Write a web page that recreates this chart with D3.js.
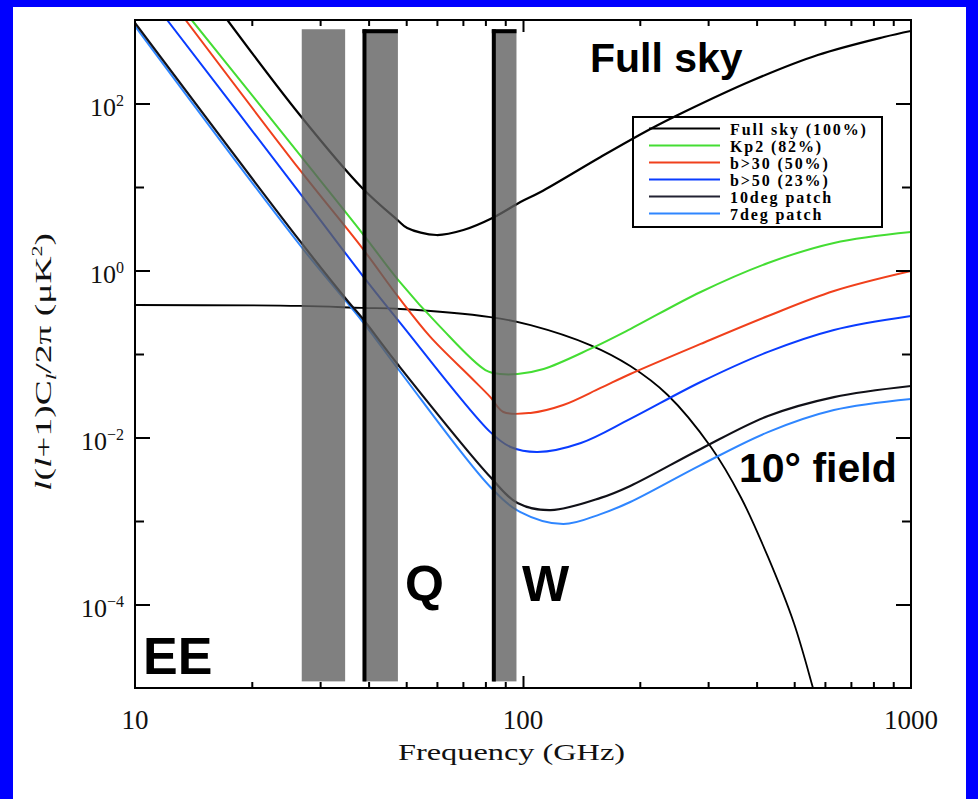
<!DOCTYPE html>
<html>
<head>
<meta charset="utf-8">
<script src="https://cdn.jsdelivr.net/npm/d3@7/dist/d3.min.js"></script>
<style>
html,body{margin:0;padding:0;background:#0000ff;}
svg{display:block;}
</style>
</head>
<body>
<svg id="chart" width="978" height="799"></svg>
<script>
// ---- Foreground EE levels: frequency (GHz) vs l(l+1)C_l/2π (μK²) ----
const fullSkyFreq = [17.3, 26.6, 38.5, 47.5, 50.3, 59.8, 70.2, 83.4, 98.5, 111, 158.5, 213, 260, 387, 575, 852, 1000];
const fullSkyVal  = [1000, 72.8, 9.72, 4.02, 3.23, 2.66, 3.05, 4.25, 6.61, 8.71, 22.9, 49.5, 79.1, 186, 381, 626, 739];

const kp2Freq = [14.0, 26.6, 38.5, 47.7, 61.2, 80.0, 87.5, 96.8, 113, 149, 189, 287, 428, 633, 1000];
const kp2Val  = [1000, 24.2, 2.81, 0.769, 0.211, 0.0643, 0.0576, 0.0576, 0.0661, 0.115, 0.199, 0.553, 1.23, 2.14, 2.89];

const b30Freq = [13.5, 26.6, 38.5, 47.7, 57.7, 73.2, 82.4, 89.0, 104.6, 127, 158.5, 189, 287, 428, 633, 1000];
const b30Val  = [1000, 16.0, 1.86, 0.482, 0.160, 0.053, 0.0305, 0.0202, 0.0197, 0.0245, 0.0392, 0.0576, 0.132, 0.285, 0.568, 0.986];

const b50Freq = [12.1, 26.6, 38.5, 48.3, 82.4, 92.9, 109, 141, 189, 287, 428, 633, 1000];
const b50Val  = [1000, 8.47, 0.883, 0.235, 0.0116, 0.00769, 0.0067, 0.00859, 0.0167, 0.0462, 0.106, 0.194, 0.285];

const patch10Freq = [10, 26.6, 35.5, 38.5, 47.7, 82.4, 96.8, 117.8, 158.5, 189, 287, 428, 633, 1000];
const patch10Val  = [921, 2.26, 0.42, 0.27, 0.0738, 0.00336, 0.00164, 0.00135, 0.00189, 0.00263, 0.00729, 0.0181, 0.0305, 0.0414];

const patch7Freq = [10, 26.6, 38.5, 48.3, 82.4, 98.5, 127, 158.5, 189, 287, 428, 633, 1000];
const patch7Val  = [848, 2.02, 0.248, 0.0609, 0.00255, 0.00128, 0.00092, 0.00121, 0.00169, 0.00468, 0.0116, 0.0213, 0.0289];

// CMB EE signal for a 10° field
const fieldFreq = [10, 26.6, 38.5, 48.3, 82.4, 104.6, 149, 189, 236, 305, 364, 428, 499, 559, 600];
const fieldVal  = [0.386, 0.376, 0.356, 0.346, 0.277, 0.222, 0.128, 0.0718, 0.0323, 0.00769, 0.00194, 0.000371, 0.00006, 0.00001, 0.000003];

// Frequency bands (GHz); the last two carry a marker edge
const bandLow  = [26.9, 38.8, 83.6];
const bandHigh = [34.8, 47.6, 96.2];
const bandMarked = [false, true, true];
const bandTopVal = 775, bandBottomVal = 1.2e-5;

// Axis ticks
const xLabelTicks = [10, 100, 1000];
const xMinorTicks = [20, 30, 40, 50, 60, 70, 80, 90, 200, 300, 400, 500, 600, 700, 800, 900];
const yLabelExponents = [-4, -2, 0, 2];
const yMinorExponents = [-3, -1, 1];

const legendLabels = ["Full sky (100%)", "Kp2 (82%)", "b>30 (50%)", "b>50 (23%)", "10deg patch", "7deg patch"];

// ---- drawing ----
const svg = d3.select("#chart");
svg.append("rect").attr("x", 13).attr("y", 7).attr("width", 953).attr("height", 792).attr("fill", "#fff");

const L = 135, R = 911, T = 20, B = 688;
const x = d3.scaleLog().domain([10, 1000]).range([L, R]);
const y = d3.scaleLog().domain([1e-5, 1e3]).range([B, T]);

svg.append("defs").append("clipPath").attr("id", "plotclip")
  .append("rect").attr("x", L).attr("y", T).attr("width", R - L).attr("height", B - T);

const plot = svg.append("g").attr("clip-path", "url(#plotclip)");

const zip = (f, v) => f.map((d, i) => ({f: d, v: v[i]}));
const series = [
  {data: zip(fieldFreq, fieldVal),     color: "#000000", w: 1.8},
  {data: zip(fullSkyFreq, fullSkyVal), color: "#000000", w: 2.2},
  {data: zip(kp2Freq, kp2Val),         color: "#44dd33", w: 2},
  {data: zip(b30Freq, b30Val),         color: "#f0401c", w: 2},
  {data: zip(b50Freq, b50Val),         color: "#0a3cff", w: 2},
  {data: zip(patch7Freq, patch7Val),   color: "#2f86ff", w: 2},
  {data: zip(patch10Freq, patch10Val), color: "#111118", w: 2.2}
];

const line = d3.line().x(d => x(d.f)).y(d => y(d.v)).curve(d3.curveCatmullRom.alpha(0.5));
plot.selectAll("path.curve").data(series).join("path")
  .attr("class", "curve")
  .attr("d", s => line(s.data))
  .attr("fill", "none")
  .attr("stroke", s => s.color)
  .attr("stroke-width", s => s.w)
  .attr("stroke-linejoin", "round");

// shaded bands drawn over the curves
const bands = bandLow.map((lo, i) => ({lo, hi: bandHigh[i], marked: bandMarked[i]}));
plot.selectAll("rect.band").data(bands).join("rect")
  .attr("class", "band")
  .attr("x", d => x(d.lo)).attr("width", d => x(d.hi) - x(d.lo))
  .attr("y", y(bandTopVal)).attr("height", y(bandBottomVal) - y(bandTopVal))
  .attr("fill", "#606060").attr("opacity", 0.8);

const marked = bands.filter(d => d.marked);
plot.selectAll("line.edge").data(marked).join("line")
  .attr("class", "edge")
  .attr("x1", d => x(d.lo) + 1).attr("x2", d => x(d.lo) + 1)
  .attr("y1", y(bandTopVal)).attr("y2", y(bandBottomVal))
  .attr("stroke", "#000").attr("stroke-width", 4);
plot.selectAll("line.cap").data(marked).join("line")
  .attr("class", "cap")
  .attr("x1", d => x(d.lo) - 1).attr("x2", d => x(d.hi))
  .attr("y1", y(bandTopVal) + 2).attr("y2", y(bandTopVal) + 2)
  .attr("stroke", "#000").attr("stroke-width", 4);

// ---- axes (ticks point inward) ----
const axisStyle = g => { g.select(".domain").remove(); g.selectAll("line").attr("stroke", "#000").attr("stroke-width", 2); g.selectAll("text").remove(); };
const yMajor = yLabelExponents.map(e => Math.pow(10, e));
const yMinor = yMinorExponents.map(e => Math.pow(10, e));

svg.append("g").attr("transform", `translate(${L},0)`).call(d3.axisLeft(y).tickValues(yMajor).tickSize(-15).tickSizeOuter(0)).call(axisStyle);
svg.append("g").attr("transform", `translate(${L},0)`).call(d3.axisLeft(y).tickValues(yMinor).tickSize(-9).tickSizeOuter(0)).call(axisStyle);
svg.append("g").attr("transform", `translate(${R},0)`).call(d3.axisRight(y).tickValues(yMajor).tickSize(-15).tickSizeOuter(0)).call(axisStyle);
svg.append("g").attr("transform", `translate(${R},0)`).call(d3.axisRight(y).tickValues(yMinor).tickSize(-9).tickSizeOuter(0)).call(axisStyle);
svg.append("g").attr("transform", `translate(0,${B})`).call(d3.axisBottom(x).tickValues(xMinorTicks).tickSize(-6).tickSizeOuter(0)).call(axisStyle);
svg.append("g").attr("transform", `translate(0,${B})`).call(d3.axisBottom(x).tickValues([100]).tickSize(-12).tickSizeOuter(0)).call(axisStyle);
svg.append("g").attr("transform", `translate(0,${T})`).call(d3.axisTop(x).tickValues(xMinorTicks).tickSize(-6).tickSizeOuter(0)).call(axisStyle);
svg.append("g").attr("transform", `translate(0,${T})`).call(d3.axisTop(x).tickValues([100]).tickSize(-12).tickSizeOuter(0)).call(axisStyle);

svg.append("rect").attr("x", L).attr("y", T).attr("width", R - L).attr("height", B - T)
  .attr("fill", "none").attr("stroke", "#000").attr("stroke-width", 2);

const serif = "'Liberation Serif', 'DejaVu Serif', serif";

// y tick labels 10^n
yLabelExponents.forEach(e => {
  const t = svg.append("text").attr("x", 124).attr("y", y(Math.pow(10, e)) + 12)
    .attr("text-anchor", "end").attr("font-family", serif).attr("font-size", 26).attr("fill", "#111");
  t.append("tspan").text("10");
  t.append("tspan").attr("dy", -10).attr("font-size", 16).text(e < 0 ? "\u2212" + (-e) : String(e));
});

// x tick labels
svg.selectAll("text.xlab").data(xLabelTicks).join("text")
  .attr("class", "xlab")
  .attr("x", d => x(d)).attr("y", 729)
  .attr("text-anchor", "middle").attr("font-family", serif).attr("font-size", 27).attr("fill", "#111")
  .text(d => d);

// axis titles
svg.append("text").attr("x", 398).attr("y", 760)
  .attr("font-family", serif).attr("font-size", 24).attr("fill", "#111")
  .attr("textLength", 227).attr("lengthAdjust", "spacingAndGlyphs")
  .text("Frequency (GHz)");

const yt = svg.append("text")
  .attr("transform", "translate(51,491) rotate(-90)")
  .attr("font-family", serif).attr("font-size", 24).attr("fill", "#111")
  .attr("textLength", 258).attr("lengthAdjust", "spacingAndGlyphs");
yt.append("tspan").attr("font-style", "italic").text("l");
yt.append("tspan").text("(");
yt.append("tspan").attr("font-style", "italic").text("l");
yt.append("tspan").text("+1)C");
yt.append("tspan").attr("font-style", "italic").attr("font-size", 15).attr("dy", 5).text("l");
yt.append("tspan").attr("dy", -5).text("/2\u03c0 (\u03bcK");
yt.append("tspan").attr("font-size", 14).attr("dy", -9).text("2");
yt.append("tspan").attr("dy", 9).text(")");

// annotations
const sans = "'Liberation Sans', Arial, Helvetica, sans-serif";
const notes = [
  {text: "Full sky",  x: 590, y: 72,  size: 41},
  {text: "10\u00b0 field", x: 739, y: 482, size: 41},
  {text: "Q",  x: 405, y: 601, size: 50},
  {text: "W",  x: 522, y: 601, size: 50},
  {text: "EE", x: 143, y: 674, size: 52}
];
svg.selectAll("text.note").data(notes).join("text")
  .attr("class", "note")
  .attr("x", d => d.x).attr("y", d => d.y)
  .attr("font-family", sans).attr("font-weight", "bold").attr("font-size", d => d.size)
  .attr("fill", "#000").text(d => d.text);

// legend
const legendColors = ["#000000", "#44dd33", "#f0401c", "#0a3cff", "#222233", "#2f86ff"];
const lg = svg.append("g");
lg.append("rect").attr("x", 633).attr("y", 117).attr("width", 249).attr("height", 110)
  .attr("fill", "none").attr("stroke", "#000").attr("stroke-width", 2);
const rowY = i => 128.5 + i * 17;
lg.selectAll("line").data(legendLabels).join("line")
  .attr("x1", 649).attr("x2", 720)
  .attr("y1", (d, i) => rowY(i)).attr("y2", (d, i) => rowY(i))
  .attr("stroke", (d, i) => legendColors[i]).attr("stroke-width", 2.2);
lg.selectAll("text").data(legendLabels).join("text")
  .attr("x", 730).attr("y", (d, i) => rowY(i) + 6)
  .attr("font-family", serif).attr("font-weight", "bold").attr("font-size", 16)
  .attr("letter-spacing", 1.9).attr("fill", "#000")
  .text(d => d);
</script>
</body>
</html>
